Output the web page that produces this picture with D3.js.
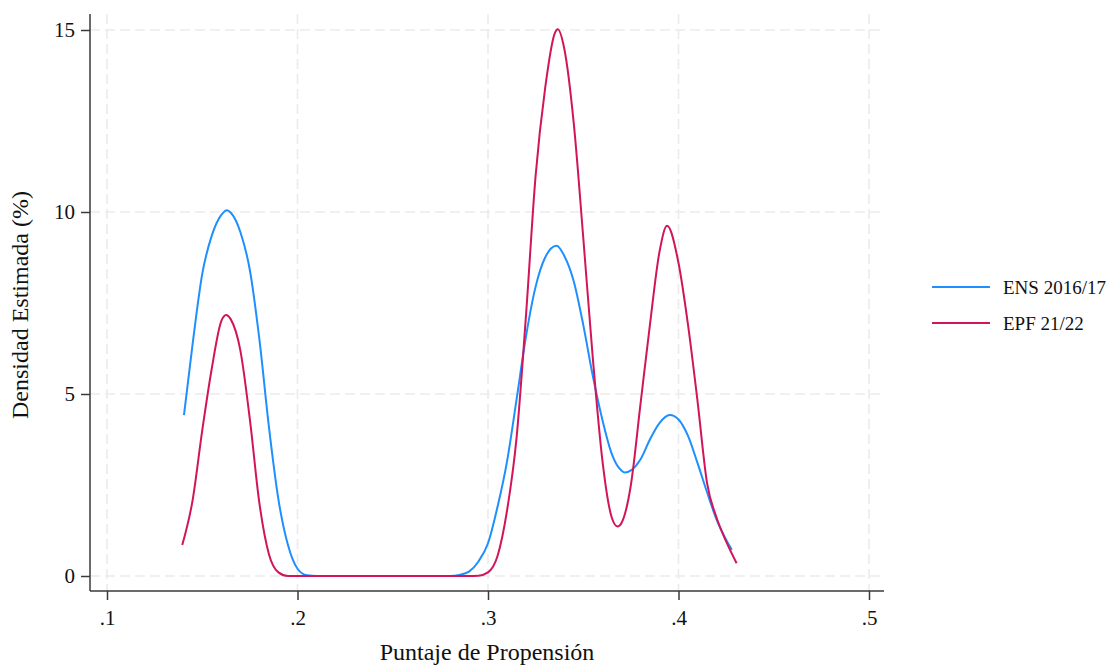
<!DOCTYPE html>
<html>
<head>
<meta charset="utf-8">
<script src="https://cdn.jsdelivr.net/npm/d3@7"></script>
<style>
  body { margin: 0; background: #fff; }
  text { font-family: "Liberation Serif", "Times New Roman", serif; fill: #111; }
</style>
</head>
<body>
<script>
// kernel density estimates
var xEns = [0.1404, 0.145, 0.150, 0.155, 0.160, 0.163, 0.165, 0.170, 0.175, 0.180, 0.185, 0.190, 0.195, 0.200, 0.205, 0.210,
            0.280, 0.285, 0.290, 0.295, 0.300, 0.305, 0.310, 0.315, 0.320, 0.325, 0.330, 0.336, 0.340, 0.345, 0.350, 0.355,
            0.360, 0.365, 0.370, 0.372, 0.375, 0.380, 0.385, 0.390, 0.3955, 0.400, 0.405, 0.410, 0.415, 0.420, 0.425, 0.428];
var yEns = [4.42, 6.4, 8.3, 9.35, 9.92, 10.05, 9.98, 9.45, 8.4, 6.5, 4.1, 2.1, 0.85, 0.2, 0.02, 0,
            0, 0.03, 0.12, 0.4, 0.9, 1.9, 3.15, 4.85, 6.6, 7.95, 8.75, 9.07, 8.8, 8.1, 6.9, 5.5,
            4.3, 3.35, 2.9, 2.84, 2.9, 3.2, 3.75, 4.2, 4.42, 4.3, 3.85, 3.1, 2.3, 1.55, 1.0, 0.72];

var xEpf = [0.1395, 0.145, 0.150, 0.155, 0.160, 0.1625, 0.165, 0.170, 0.175, 0.180, 0.185, 0.190, 0.195,
            0.290, 0.295, 0.300, 0.305, 0.310, 0.315, 0.320, 0.325, 0.330, 0.335, 0.3366, 0.340, 0.345, 0.350, 0.355,
            0.360, 0.365, 0.368, 0.370, 0.375, 0.380, 0.385, 0.390, 0.394, 0.400, 0.405, 0.410, 0.415, 0.420, 0.425, 0.4305];
var yEpf = [0.85, 2.1, 4.0, 5.7, 7.0, 7.17, 7.05, 6.2, 4.3, 2.0, 0.6, 0.1, 0,
            0, 0.01, 0.1, 0.55, 1.8, 3.8, 7.2, 11.0, 13.4, 14.9, 15.02, 14.5, 12.45, 9.3, 6.0,
            3.2, 1.6, 1.36, 1.45, 2.5, 4.7, 6.9, 8.9, 9.62, 8.6, 6.9, 4.8, 2.55, 1.6, 0.95, 0.35];

var seriesNames = ["ENS 2016/17", "EPF 21/22"];
var seriesColors = ["#1e8fff", "#d2155a"];

var xTicks = [0.1, 0.2, 0.3, 0.4, 0.5];
var xTickLabels = [".1", ".2", ".3", ".4", ".5"];
var yTicks = [0, 5, 10, 15];

var W = 1109, H = 665;
var pLeft = 90, pRight = 884, pTop = 14, pBottom = 591;

var svg = d3.select("body").append("svg")
    .attr("width", W)
    .attr("height", H);

var x = d3.scaleLinear().domain([0.1, 0.5]).range([107, 869]);
var y = d3.scaleLinear().domain([0, 15]).range([576, 30]);

// grid
var grid = svg.append("g").attr("class", "grid");
grid.selectAll("line.v").data(xTicks).enter().append("line")
    .attr("x1", d => x(d)).attr("x2", d => x(d))
    .attr("y1", pTop).attr("y2", pBottom)
    .attr("stroke", "#ebebeb").attr("stroke-width", 1.6)
    .attr("stroke-dasharray", "10,5");
grid.selectAll("line.h").data(yTicks).enter().append("line")
    .attr("x1", pLeft).attr("x2", pRight)
    .attr("y1", d => y(d)).attr("y2", d => y(d))
    .attr("stroke", "#ebebeb").attr("stroke-width", 1.6)
    .attr("stroke-dasharray", "10,5");

// curves
var ens = xEns.map((v, i) => [v, yEns[i]]);
var epf = xEpf.map((v, i) => [v, yEpf[i]]);

var line = d3.line()
    .x(d => x(d[0]))
    .y(d => y(d[1]))
    .curve(d3.curveMonotoneX);

[ens, epf].forEach((s, i) => {
    svg.append("path")
        .datum(s)
        .attr("d", line)
        .attr("fill", "none")
        .attr("stroke", seriesColors[i])
        .attr("stroke-width", 2);
});

// axes
var axisX = svg.append("g")
    .attr("transform", "translate(0," + pBottom + ")")
    .call(d3.axisBottom(x).tickValues(xTicks)
        .tickFormat((d, i) => xTickLabels[i])
        .tickSize(9).tickPadding(10).tickSizeOuter(0));
axisX.select(".domain").attr("d", "M" + pLeft + ",0H" + pRight);

var axisY = svg.append("g")
    .attr("transform", "translate(" + pLeft + ",0)")
    .call(d3.axisLeft(y).tickValues(yTicks)
        .tickSize(9).tickPadding(6).tickSizeOuter(0));
axisY.select(".domain").attr("d", "M0," + pTop + "V" + pBottom);

svg.selectAll(".domain, .tick line").attr("stroke", "#3a3a3a").attr("stroke-width", 1.5);
svg.selectAll(".tick text")
    .attr("font-family", "Liberation Serif, Times New Roman, serif")
    .attr("font-size", "21px")
    .attr("fill", "#111");

// axis titles
svg.append("text")
    .attr("x", 487)
    .attr("y", 660)
    .attr("text-anchor", "middle")
    .attr("font-size", "24px")
    .text("Puntaje de Propensión");

svg.append("text")
    .attr("transform", "translate(28,305) rotate(-90)")
    .attr("text-anchor", "middle")
    .attr("font-size", "24px")
    .text("Densidad Estimada (%)");

// legend
var legend = svg.append("g").attr("transform", "translate(932,287)");
seriesNames.forEach((n, i) => {
    var g = legend.append("g").attr("transform", "translate(0," + (i * 36) + ")");
    g.append("line")
        .attr("x1", 0).attr("x2", 58)
        .attr("stroke", seriesColors[i]).attr("stroke-width", 2);
    g.append("text")
        .attr("x", 71).attr("y", 7)
        .attr("font-size", "19px")
        .text(n);
});
</script>
</body>
</html>
